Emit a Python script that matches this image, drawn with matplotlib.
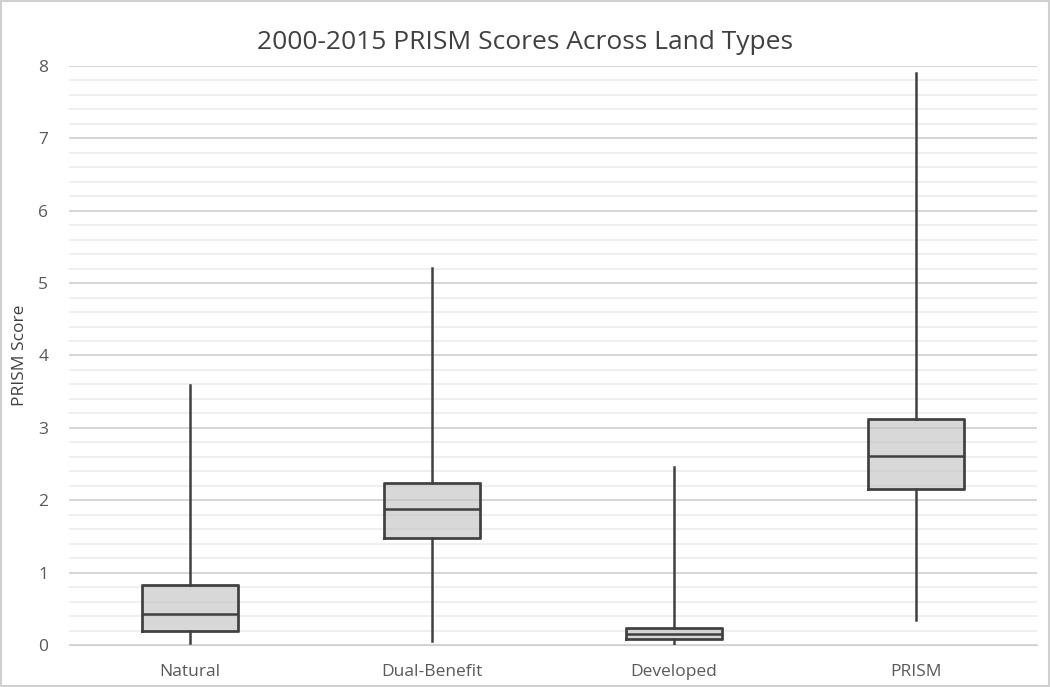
import matplotlib
matplotlib.use("Agg")
import matplotlib.pyplot as plt
from matplotlib.ticker import MultipleLocator

# box plot summary values
categories = ["Natural", "Dual-Benefit", "Developed", "PRISM"]
whisker_low = [0.03, 0.05, 0.01, 0.35]
q1 = [0.20, 1.48, 0.08, 2.15]
median = [0.43, 1.88, 0.15, 2.61]
q3 = [0.83, 2.24, 0.23, 3.12]
whisker_high = [3.59, 5.21, 2.46, 7.90]

stats = []
for i, name in enumerate(categories):
    stats.append({"label": name, "whislo": whisker_low[i], "q1": q1[i],
                  "med": median[i], "q3": q3[i], "whishi": whisker_high[i],
                  "fliers": []})

plt.rcParams['font.family'] = ['Open Sans', 'DejaVu Sans']
fig = plt.figure(figsize=(10.5, 6.87), dpi=100)
ax = fig.add_axes([0.0657, 0.0611, 0.9219, 0.8429])

edge = "#404040"
ax.bxp(stats, positions=range(1, 5), widths=0.4, patch_artist=True,
       showcaps=False,
       boxprops=dict(facecolor="#bfbfbf", alpha=0.6, edgecolor=edge, linewidth=1.8),
       medianprops=dict(color=edge, linewidth=1.8),
       whiskerprops=dict(color=edge, linewidth=1.8), zorder=3)
# redraw box outlines opaque
for i in range(4):
    ax.plot([i + 0.8, i + 1.2, i + 1.2, i + 0.8, i + 0.8],
            [q1[i], q1[i], q3[i], q3[i], q1[i]], color=edge, lw=1.8, zorder=4)

ax.set_xlim(0.5, 4.5)
ax.set_ylim(0, 8)
ax.yaxis.set_major_locator(MultipleLocator(1))
ax.yaxis.set_minor_locator(MultipleLocator(0.2))
ax.grid(which="major", axis="y", color="#d0d0d0", lw=1.2, zorder=0)
ax.grid(which="minor", axis="y", color="#ececec", lw=1.2, zorder=0)
for s in ["top", "right", "left"]:
    ax.spines[s].set_visible(False)
ax.spines["bottom"].set_color("#d0d0d0")
ax.tick_params(axis="both", which="both", length=0, colors="#595959",
               labelsize=12.5)
ax.tick_params(axis="y", pad=15)
ax.tick_params(axis="x", pad=14)
ax.set_ylabel("PRISM Score", fontsize=12.5, color="#404040")
ax.yaxis.set_label_coords(-0.042, 0.5)
ax.set_title("2000-2015 PRISM Scores Across Land Types", fontsize=19,
             color="#404040", pad=12, x=0.471)

border = plt.Rectangle((0.001, 0.001), 0.998, 0.998, transform=fig.transFigure,
                       fill=False, edgecolor="#d0d0d0", lw=1.5)
fig.patches.append(border)
fig.savefig("out.png", dpi=100)
